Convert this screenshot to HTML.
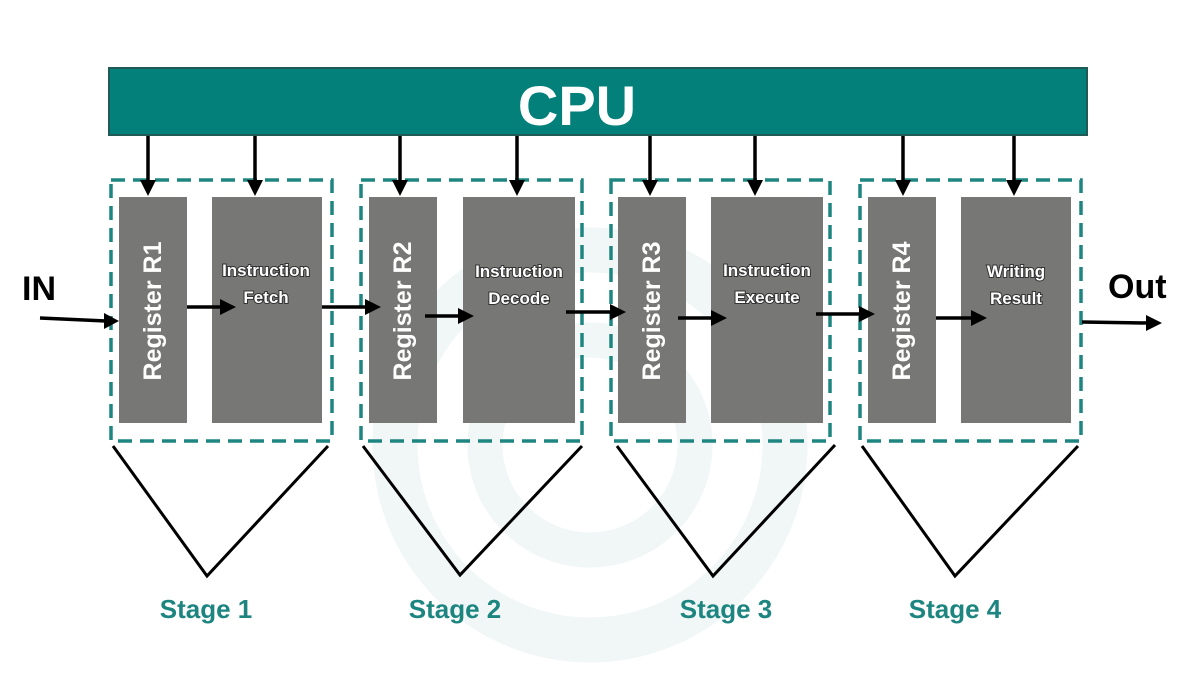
<!DOCTYPE html>
<html><head><meta charset="utf-8"><style>
html,body{margin:0;padding:0;background:#fff;}
svg{display:block;}
text{font-family:"Liberation Sans",sans-serif;font-weight:bold;}
.it{paint-order:stroke fill;}
</style></head><body>
<svg width="1200" height="675" viewBox="0 0 1200 675" xmlns="http://www.w3.org/2000/svg">
<!-- watermark -->
<g fill="none" stroke="#f0f7f6">
<circle cx="590" cy="445" r="195" stroke-width="45"/>
<circle cx="590" cy="445" r="105" stroke-width="35"/>
</g>
<!-- CPU -->
<rect x="109" y="68" width="978" height="67" fill="#03807a" stroke="#1f5a57" stroke-width="2"/>
<text x="577" y="125" font-size="56" fill="#fff" text-anchor="middle">CPU</text>

<g fill="none" stroke="#1f8580" stroke-width="3.5" stroke-dasharray="14,8">
<rect x="111" y="180" width="221" height="261"/>
<rect x="361" y="180" width="221" height="261"/>
<rect x="611" y="180" width="219" height="261"/>
<rect x="860" y="180" width="221" height="261"/>
</g>

<g fill="#777775">
<rect x="119" y="197" width="68" height="226"/>
<rect x="212" y="197" width="110" height="226"/>
<rect x="369" y="197" width="68" height="226"/>
<rect x="463" y="197" width="112" height="226"/>
<rect x="618" y="197" width="68" height="226"/>
<rect x="711" y="197" width="112" height="226"/>
<rect x="868" y="197" width="68" height="226"/>
<rect x="961" y="197" width="110" height="226"/>
</g>

<g font-size="25" fill="#fff" text-anchor="middle">
<text transform="translate(161,311) rotate(-90)">Register R1</text>
<text transform="translate(411,311) rotate(-90)">Register R2</text>
<text transform="translate(660,311) rotate(-90)">Register R3</text>
<text transform="translate(910,311) rotate(-90)">Register R4</text>
</g>
<g font-size="17" fill="#fff" stroke="#333" stroke-width="2" text-anchor="middle" class="it">
<text class="it" x="266" y="276">Instruction</text><text class="it" x="266" y="303">Fetch</text>
<text class="it" x="519" y="277">Instruction</text><text class="it" x="519" y="304">Decode</text>
<text class="it" x="767" y="276">Instruction</text><text class="it" x="767" y="303">Execute</text>
<text class="it" x="1016" y="277">Writing</text><text class="it" x="1016" y="304">Result</text>
</g>

<!-- vertical arrows -->
<g stroke="#000" stroke-width="3.5">
<line x1="148" y1="136" x2="148" y2="182"/><line x1="255" y1="136" x2="255" y2="182"/>
<line x1="400" y1="136" x2="400" y2="182"/><line x1="517" y1="136" x2="517" y2="182"/>
<line x1="650" y1="136" x2="650" y2="182"/><line x1="755" y1="136" x2="755" y2="182"/>
<line x1="903" y1="136" x2="903" y2="182"/><line x1="1014" y1="136" x2="1014" y2="182"/>
</g>
<g fill="#000">
<path d="M140,180 L156,180 L148,196 Z"/><path d="M247,180 L263,180 L255,196 Z"/>
<path d="M392,180 L408,180 L400,196 Z"/><path d="M509,180 L525,180 L517,196 Z"/>
<path d="M642,180 L658,180 L650,196 Z"/><path d="M747,180 L763,180 L755,196 Z"/>
<path d="M895,180 L911,180 L903,196 Z"/><path d="M1006,180 L1022,180 L1014,196 Z"/>
</g>

<!-- horizontal arrows -->
<g stroke="#000" stroke-width="3.5">
<line x1="40" y1="318" x2="106" y2="321"/>
<line x1="187" y1="307" x2="222" y2="307"/>
<line x1="322" y1="307" x2="367" y2="307"/>
<line x1="425" y1="316" x2="460" y2="316"/>
<line x1="566" y1="312" x2="612" y2="312"/>
<line x1="678" y1="318" x2="713" y2="318"/>
<line x1="816" y1="314" x2="861" y2="314"/>
<line x1="936" y1="318" x2="973" y2="318"/>
<line x1="1082" y1="322" x2="1148" y2="323"/>
</g>
<g fill="#000">
<path d="M104,313 L119,321 L104,329 Z"/>
<path d="M220,299 L236,307 L220,315 Z"/>
<path d="M365,299 L381,307 L365,315 Z"/>
<path d="M458,308 L474,316 L458,324 Z"/>
<path d="M610,304 L626,312 L610,320 Z"/>
<path d="M711,310 L727,318 L711,326 Z"/>
<path d="M859,306 L875,314 L859,322 Z"/>
<path d="M971,310 L987,318 L971,326 Z"/>
<path d="M1146,315 L1162,323 L1146,331 Z"/>
</g>

<text x="22" y="300" font-size="34" fill="#000">IN</text>
<text x="1108" y="298" font-size="34" fill="#000">Out</text>

<!-- triangles -->
<g fill="none" stroke="#000" stroke-width="3">
<polyline points="113,446 207,576 328,446"/>
<polyline points="363,446 460,575 582,446"/>
<polyline points="617,446 713,576 835,445"/>
<polyline points="862,446 955,576 1078,446"/>
</g>

<g font-size="26" fill="#1d8580" text-anchor="middle">
<text x="206" y="618">Stage 1</text>
<text x="455" y="618">Stage 2</text>
<text x="726" y="618">Stage 3</text>
<text x="955" y="618">Stage 4</text>
</g>
</svg>
</body></html>
